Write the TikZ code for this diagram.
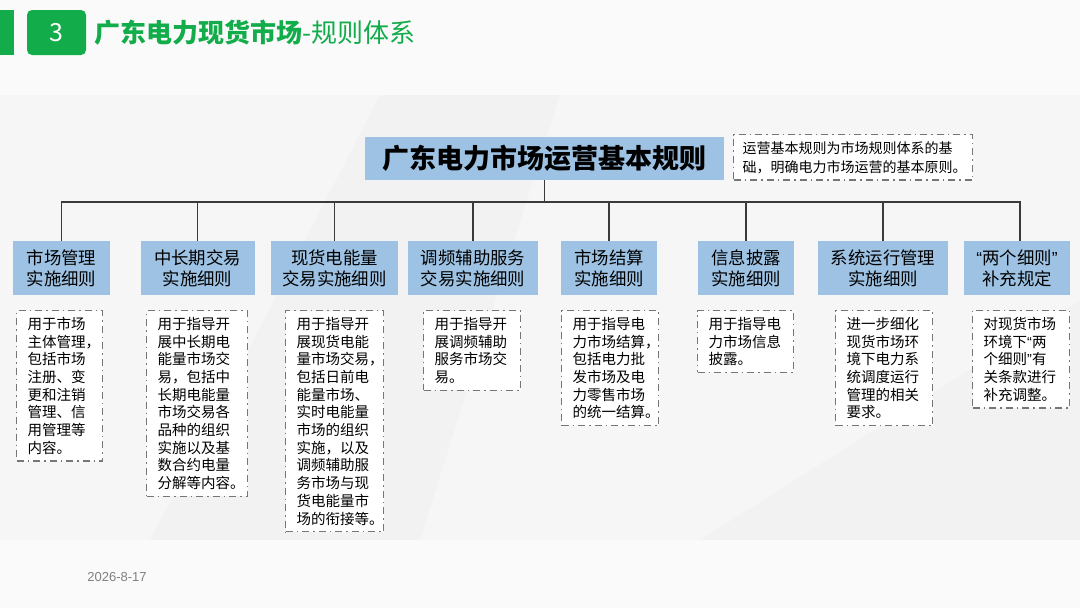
\documentclass[tikz,border=0pt]{standalone}
\usepackage{fontspec}
\setmainfont{Noto Sans CJK SC}
\newfontfamily\datefont{Liberation Sans}
\newcommand\qopen{{\datefont “}}
\newcommand\qclose{{\datefont ”}}
\definecolor{titlegreen}{RGB}{18,172,74}
\definecolor{boxblue}{RGB}{157,194,227}
\definecolor{linegray}{RGB}{58,58,58}
\definecolor{dashgray}{RGB}{118,118,118}
\definecolor{pagegray}{RGB}{250,250,250}
\definecolor{bandgray}{RGB}{242,242,243}
\definecolor{softgray}{RGB}{246,246,247}
\tikzset{
  topbox/.style={fill=boxblue, minimum width=359pt, minimum height=43pt, inner sep=0pt,
    font=\bfseries\fontsize{27}{30}\selectfont},
  rulebox/.style={fill=boxblue, minimum height=54pt, inner sep=0pt, align=center,
    font=\fontsize{17.4}{21}\selectfont},
  dashbox/.style={draw=dashgray, fill=white, line width=1.4pt,
    dash pattern=on 7pt off 4pt on 1.5pt off 4pt, anchor=north west, align=left},
  descbox/.style={dashbox, inner xsep=11pt, inner ysep=6.5pt,
    font=\fontsize{14.5}{17.7}\selectfont},
  busline/.style={draw=linegray, line width=1.5pt}
}
\begin{document}
\begin{tikzpicture}[x=1pt,y=-1pt]
        % Page and background band
        \fill[pagegray] (0,0) rectangle (1080,608);
        \fill[bandgray] (0,95) rectangle (1080,540);
        \fill[softgray] (0,95) -- (380,95) -- (150,540) -- (0,540) -- cycle;
        \fill[softgray] (560,95) -- (1080,95) -- (1080,300) -- (700,540) -- (420,540) -- cycle;
        \useasboundingbox (0,0) rectangle (1080,608);

        % Header
        \fill[titlegreen] (0,10) rectangle (14,55);
        \node[fill=titlegreen, rounded corners=5pt, minimum width=59pt, minimum height=45pt,
          inner sep=0pt, text=white, font=\fontsize{25}{28}\selectfont] (num) at (56.5,32.5) {3};
        \node[anchor=west, inner sep=0pt, text=titlegreen, font=\fontsize{26}{30}\selectfont]
          (title) at (94,33) {{\bfseries 广东电力现货市场}-规则体系};

        % Top rule and its note
        \node[topbox] (top) at (544.5,158.5) {广东电力市场运营基本规则};
        \node[dashbox, inner xsep=9pt, inner ysep=6.5pt, text width=221pt,
          font=\fontsize{14}{19}\selectfont] (note) at (733,134)
          {运营基本规则为市场规则体系的基\\础，明确电力市场运营的基本原则。};

        % Detailed rules
        \node[rulebox, minimum width=97pt] (b1) at (61.5,268) {市场管理\\实施细则};
        \node[rulebox, minimum width=114pt] (b2) at (197.5,268) {中长期交易\\实施细则};
        \node[rulebox, minimum width=127pt] (b3) at (334.5,268) {现货电能量\\交易实施细则};
        \node[rulebox, minimum width=130pt] (b4) at (473,268) {调频辅助服务\\交易实施细则};
        \node[rulebox, minimum width=96pt] (b5) at (609,268) {市场结算\\实施细则};
        \node[rulebox, minimum width=96pt] (b6) at (746,268) {信息披露\\实施细则};
        \node[rulebox, minimum width=130pt] (b7) at (883,268) {系统运行管理\\实施细则};
        \node[rulebox, minimum width=106pt] (b8) at (1017,268) {\qopen 两个细则\qclose\\补充规定};

        % Draw tree lines
        \coordinate (busL) at (61.5,202);
        \coordinate (busR) at (1020,202);
        \draw[busline] (top.south) -- (top.south |- busL);
        \draw[busline, line cap=rect] (busL) -- (busR);
        \draw[busline] (busL) -- (busL |- b1.north);
        \draw[busline] (b2.north |- busL) -- (b2.north);
        \draw[busline] (b3.north |- busL) -- (b3.north);
        \draw[busline] (b4.north |- busL) -- (b4.north);
        \draw[busline] (b5.north |- busL) -- (b5.north);
        \draw[busline] (b6.north |- busL) -- (b6.north);
        \draw[busline] (b7.north |- busL) -- (b7.north);
        \draw[busline] (busR) -- (busR |- b8.north);

        % Descriptions
        \node[descbox, text width=64pt] (d1) at (16,310)
          {用于市场\\主体管理，\\包括市场\\注册、变\\更和注销\\管理、信\\用管理等\\内容。};
        \node[descbox, text width=79pt] (d2) at (146,310)
          {用于指导开\\展中长期电\\能量市场交\\易，包括中\\长期电能量\\市场交易各\\品种的组织\\实施以及基\\数合约电量\\分解等内容。};
        \node[descbox, text width=76pt] (d3) at (285,310)
          {用于指导开\\展现货电能\\量市场交易，\\包括日前电\\能量市场、\\实时电能量\\市场的组织\\实施，以及\\调频辅助服\\务市场与现\\货电能量市\\场的衔接等。};
        \node[descbox, text width=75pt] (d4) at (423,310)
          {用于指导开\\展调频辅助\\服务市场交\\易。};
        \node[descbox, text width=75pt] (d5) at (561,310)
          {用于指导电\\力市场结算，\\包括电力批\\发市场及电\\力零售市场\\的统一结算。};
        \node[descbox, text width=74pt] (d6) at (697,310)
          {用于指导电\\力市场信息\\披露。};
        \node[descbox, text width=75pt] (d7) at (835,310)
          {进一步细化\\现货市场环\\境下电力系\\统调度运行\\管理的相关\\要求。};
        \node[descbox, text width=75pt] (d8) at (972,310)
          {对现货市场\\环境下\qopen 两\\个细则\qclose 有\\关条款进行\\补充调整。};

        % Date
        \node[text=gray, inner sep=0pt, font=\datefont\fontsize{13}{15}\selectfont] (date) at (117,577) {2026-8-17};
    \end{tikzpicture}
\end{document}
